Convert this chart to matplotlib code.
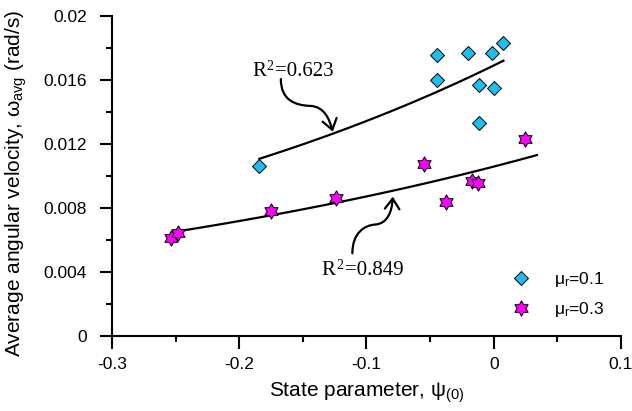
import numpy as np
import matplotlib
matplotlib.use("Agg")
import matplotlib.pyplot as plt
from matplotlib.path import Path
from matplotlib.patches import FancyArrowPatch
from matplotlib.ticker import MultipleLocator, FixedLocator

# ---------------- data ----------------
psi_mu01 = [-0.1844, -0.0447, -0.0447, -0.0204, -0.0015, 0.0076, -0.0115, 0.0003, -0.0115]
omega_mu01 = [0.01061, 0.01754, 0.01598, 0.01769, 0.01769, 0.01827, 0.01567, 0.01550, 0.01327]

psi_mu03 = [-0.2539, -0.2479, -0.1752, -0.1241, -0.0547, -0.0372, -0.0172, -0.0125, 0.0247]
omega_mu03 = [0.00609, 0.00640, 0.00781, 0.00863, 0.01071, 0.00838, 0.00969, 0.00956, 0.01229]

# exponential trend lines  y = a * exp(b * x)
fit_mu01 = dict(a=0.01689, b=2.30, xmin=-0.1842, xmax=0.0076)
fit_mu03 = dict(a=0.01057, b=1.942, xmin=-0.2505, xmax=0.0339)

r2_values = ["=0.623", "=0.849"]
legend_labels = [r"$\mu_{\mathregular{r}}$=0.1", r"$\mu_{\mathregular{r}}$=0.3"]

xticks = [-0.3, -0.2, -0.1, 0, 0.1]
xtick_labels = ["-0.3", "-0.2", "-0.1", "0", "0.1"]
yticks = [0, 0.004, 0.008, 0.012, 0.016, 0.02]
ytick_labels = ["0", "0.004", "0.008", "0.012", "0.016", "0.02"]

# ---------------- style ----------------
plt.rcParams["font.family"] = ["Liberation Sans", "DejaVu Sans"]
plt.rcParams["mathtext.fontset"] = "custom"
plt.rcParams["mathtext.rm"] = "Liberation Sans"
plt.rcParams["mathtext.it"] = "Liberation Sans"
plt.rcParams["mathtext.bf"] = "Liberation Sans:bold"

fig = plt.figure(figsize=(6.32, 4.11), dpi=100)
ax = fig.add_axes([112 / 632, 1 - 335.7 / 411, 509 / 632, 320 / 411])

# hexagram marker
ang_out = np.deg2rad(90 + 60 * np.arange(6))
ang_in = np.deg2rad(120 + 60 * np.arange(6))
verts = []
for ao, ai in zip(ang_out, ang_in):
    verts.append((np.cos(ao), np.sin(ao)))
    verts.append((np.cos(ai) / np.sqrt(3), np.sin(ai) / np.sqrt(3)))
verts.append(verts[0])
codes = [Path.MOVETO] + [Path.LINETO] * 11 + [Path.CLOSEPOLY]
hexagram = Path(verts, codes)

for fit in (fit_mu01, fit_mu03):
    xs = np.linspace(fit["xmin"], fit["xmax"], 100)
    ax.plot(xs, fit["a"] * np.exp(fit["b"] * xs), color="black", lw=1.6, zorder=2)

ax.plot(psi_mu01, omega_mu01, linestyle="none", marker="D", markersize=6.8,
        markerfacecolor="#1EBEEE", markeredgecolor="black", markeredgewidth=0.7,
        label=legend_labels[0], zorder=3)
ax.plot(psi_mu03, omega_mu03, linestyle="none", marker=hexagram, markersize=11,
        markerfacecolor="#FF00FF", markeredgecolor="black", markeredgewidth=0.7,
        label=legend_labels[1], zorder=3)

# annotations: R^2 labels built from pieces (serif)
def r2_label(x, y, value):
    t1 = ax.text(x, y, "R", family="Liberation Serif", fontsize=15,
                 ha="left", va="baseline")
    ax.annotate("2", xy=(1.0, 0.0), xycoords=t1, xytext=(0.3, 6.0),
                textcoords="offset points", family="Liberation Serif",
                fontsize=10, ha="left", va="bottom")
    ax.annotate(value, xy=(1.0, 0.0), xycoords=t1, xytext=(6.5, 0),
                textcoords="offset points", family="Liberation Serif",
                fontsize=15, ha="left", va="bottom")

r2_label(-0.190, 0.01623, r2_values[0])
r2_label(-0.1351, 0.003794, r2_values[1])

def curved_arrow(pts):
    codes = [Path.MOVETO] + [Path.CURVE4] * (len(pts) - 1)
    p = FancyArrowPatch(path=Path(pts, codes),
                        arrowstyle="->,head_length=0.5,head_width=0.35",
                        mutation_scale=15, lw=1.6, color="black", zorder=2)
    ax.add_patch(p)

curved_arrow([(-0.1673, 0.01604), (-0.1673, 0.01470), (-0.1560, 0.01440), (-0.1440, 0.01436),
              (-0.1330, 0.01432), (-0.1290, 0.01350), (-0.1265, 0.01275)])
curved_arrow([(-0.1111, 0.00515), (-0.1111, 0.00640), (-0.1020, 0.00690), (-0.0930, 0.00695),
              (-0.0840, 0.00700), (-0.0800, 0.00770), (-0.0793, 0.00869)])

# axes
ax.set_xlim(-0.3, 0.1)
ax.set_ylim(0, 0.02)
ax.spines["top"].set_visible(False)
ax.spines["right"].set_visible(False)
for s in ("left", "bottom"):
    ax.spines[s].set_linewidth(1.5)
ax.xaxis.set_major_locator(FixedLocator(xticks))
ax.set_xticklabels(xtick_labels)
ax.yaxis.set_major_locator(FixedLocator(yticks))
ax.set_yticklabels(ytick_labels)
ax.xaxis.set_minor_locator(MultipleLocator(0.05))
ax.yaxis.set_minor_locator(MultipleLocator(0.002))
ax.tick_params(which="major", direction="out", length=9, width=1.5, labelsize=12.5)
ax.tick_params(which="minor", direction="out", length=4.5, width=1.5)
ax.tick_params(axis="x", which="major", pad=6)
ax.tick_params(axis="y", which="major", pad=9)

ax.set_xlabel(r"State parameter, $\psi_{(0)}$", fontsize=15)
ax.set_ylabel(r"Average angular velocity, $\omega_{\mathregular{avg}}$ (rad/s)", fontsize=15)
ax.xaxis.set_label_coords(0.5, -0.14)
ax.yaxis.set_label_coords(-0.163, 0.476)

ax.legend(loc="upper left", bbox_to_anchor=(0.756, 0.254), frameon=False,
          fontsize=12.5, handlelength=1.0, handletextpad=1.4, labelspacing=0.65,
          numpoints=1, borderpad=0.4)

fig.savefig("out.png", dpi=100)
